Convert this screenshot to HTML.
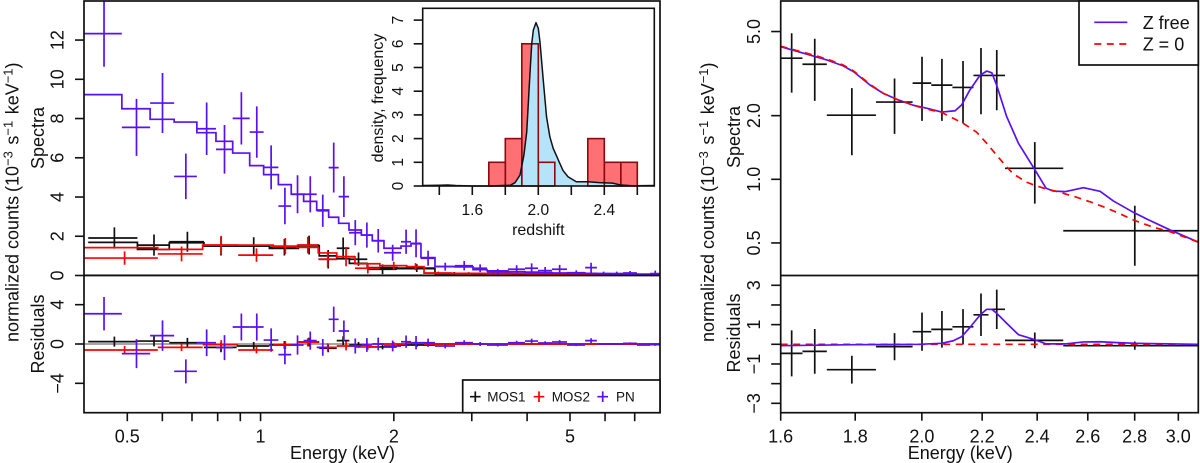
<!DOCTYPE html>
<html lang="en">
<head>
<meta charset="utf-8">
<title>X-ray spectra and residuals</title>
<style>
html,body{margin:0;padding:0;background:#fff;width:1200px;height:463px;overflow:hidden}
svg{display:block}
text{font-family:"Liberation Sans",sans-serif;fill:#111}
</style>
</head>
<body>
<svg id="chart" xmlns="http://www.w3.org/2000/svg" width="1200" height="463" viewBox="0 0 1200 463">
  <defs>
    <clipPath id="clipLT"><rect x="84" y="1" width="576" height="274.5"/></clipPath>
    <clipPath id="clipLR"><rect x="84" y="275.5" width="576" height="137"/></clipPath>
    <clipPath id="clipRT"><rect x="780.7" y="1" width="417.6" height="274.5"/></clipPath>
    <clipPath id="clipRR"><rect x="780.7" y="275.5" width="417.6" height="137"/></clipPath>
  </defs>
  <g id="leftTop" clip-path="url(#clipLT)"></g>
  <g id="leftRes" clip-path="url(#clipLR)"></g>
  <g id="rightTop" clip-path="url(#clipRT)"></g>
  <g id="rightRes" clip-path="url(#clipRR)"></g>
  <g id="axes"></g>

  <rect x="84" y="1" width="576" height="411.7" fill="none" stroke="#111" stroke-width="1.7"/>
  <line x1="84" y1="275.5" x2="660" y2="275.5" stroke="#111" stroke-width="1.7"/>
  <rect x="780.7" y="1" width="417.6" height="411.7" fill="none" stroke="#111" stroke-width="1.7"/>
  <line x1="780.7" y1="275.5" x2="1198.3" y2="275.5" stroke="#111" stroke-width="1.7"/>

  <text transform="translate(18.5 342) rotate(-90)" font-size="18">normalized counts</text>
  <text transform="translate(18.5 192) rotate(-90)" font-size="18">(10<tspan font-size="13" dy="-6">−3</tspan><tspan dy="6" dx="1.5"> s</tspan><tspan font-size="13" dy="-6">−1</tspan><tspan dy="6" dx="1.5"> keV</tspan><tspan font-size="13" dy="-6">−1</tspan><tspan dy="6">)</tspan></text>
  <text transform="translate(44 138) rotate(-90)" font-size="18" text-anchor="middle">Spectra</text>
  <text transform="translate(44 334) rotate(-90)" font-size="18" text-anchor="middle">Residuals</text>
  <text x="342.5" y="459" font-size="18" text-anchor="middle">Energy (keV)</text>

  <text transform="translate(714 342) rotate(-90)" font-size="18">normalized counts</text>
  <text transform="translate(714 192) rotate(-90)" font-size="18">(10<tspan font-size="13" dy="-6">−3</tspan><tspan dy="6" dx="1.5"> s</tspan><tspan font-size="13" dy="-6">−1</tspan><tspan dy="6" dx="1.5"> keV</tspan><tspan font-size="13" dy="-6">−1</tspan><tspan dy="6">)</tspan></text>
  <text transform="translate(740 137) rotate(-90)" font-size="18" text-anchor="middle">Spectra</text>
  <text transform="translate(740 333) rotate(-90)" font-size="18" text-anchor="middle">Residuals</text>
  <text x="960.3" y="459" font-size="18" text-anchor="middle">Energy (keV)</text>

  <rect x="422.7" y="8.3" width="231.6" height="177.7" fill="#fff"/>
  <g id="inset"></g>
  <rect x="422.7" y="8.3" width="231.6" height="177.7" fill="none" stroke="#111" stroke-width="1.6"/>
  <g id="insetAxes"></g>
  <text transform="translate(383 98) rotate(-90)" font-size="16" text-anchor="middle">density, frequency</text>
  <text x="538.3" y="235" font-size="16" text-anchor="middle">redshift</text>

  <g>
    <rect x="462.7" y="380" width="197.3" height="32.7" fill="#fff" stroke="#111" stroke-width="1.7"/>
    <path d="M470 396.7h10.6M475.3 391.4v10.6" stroke="#111" stroke-width="1.7" fill="none"/>
    <text x="487.3" y="401.5" font-size="13.5">MOS1</text>
    <path d="M533.7 396.7h10.6M539 391.4v10.6" stroke="#ff0000" stroke-width="1.7" fill="none"/>
    <text x="551.7" y="401.5" font-size="13.5">MOS2</text>
    <path d="M597.4 396.7h10.6M602.7 391.4v10.6" stroke="#5a10f5" stroke-width="1.7" fill="none"/>
    <text x="616" y="401.5" font-size="13.5">PN</text>
  </g>
  <g>
    <rect x="1079" y="1" width="119.3" height="64" fill="#fff" stroke="#111" stroke-width="1.7"/>
    <line x1="1094.3" y1="22.3" x2="1127.3" y2="22.3" stroke="#5a10f5" stroke-width="1.7"/>
    <text x="1142.7" y="29" font-size="18">Z free</text>
    <line x1="1094.3" y1="44" x2="1127.3" y2="44" stroke="#ff0000" stroke-width="1.7" stroke-dasharray="7 5.5"/>
    <text x="1142.7" y="50.5" font-size="18">Z = 0</text>
  </g>
</svg>
<script>
// ---- Left panel: XMM spectra (energy in keV, counts in 1e-3/s/keV) ----
const pnEdges = [0.4,0.486,0.563,0.638,0.718,0.793,0.865,0.945,1.016,1.097,1.173,1.251,1.339,1.425,1.501,1.584,1.689,1.788,1.9,2.076,2.187,2.303,2.477,2.749,3.019,3.247,3.62,3.957,4.234,4.553,4.922,5.41,5.75,6.16,6.59,7.08,7.58,8];
const pnCounts = [12.33,7.55,8.79,5.05,7.48,6.43,8.01,7.31,5.51,3.54,4.14,4.14,3.30,5.50,4.02,2.18,2.06,1.77,1.16,1.72,1.64,0.88,0.45,0.50,0.37,0.19,0.32,0.37,0.25,0.32,0.14,0.40,0.10,0.10,0.13,0.05,0.10];
const pnCountErr = [1.69,1.45,1.53,1.16,1.34,1.24,1.33,1.31,1.12,0.93,0.97,0.92,0.82,1.27,1.04,0.64,0.64,0.60,0.41,0.62,0.71,0.38,0.20,0.24,0.20,0.15,0.20,0.25,0.18,0.22,0.12,0.25,0.10,0.10,0.10,0.05,0.15];
const pnModel = [9.22,8.50,7.96,7.82,7.28,6.84,6.24,5.60,5.14,4.63,4.14,3.78,3.34,2.97,2.66,2.32,2.06,1.77,1.39,1.50,1.62,0.91,0.46,0.44,0.30,0.24,0.19,0.17,0.15,0.13,0.12,0.11,0.10,0.09,0.08,0.07,0.06];
const pnResid = [3.08,-0.98,0.85,-2.78,0.13,-0.37,1.73,1.73,0.40,-1.08,-0.10,0.34,-0.34,2.51,1.32,-0.20,-0.10,0,-0.20,0.23,0.13,0.13,-0.20,0.13,0,-0.10,0.13,0.30,0.10,0.20,-0.10,0.34,0,0,0.06,-0.10,-0.07];
const pnResidErr = [1.70,1.47,1.55,1.22,1.36,1.27,1.37,1.37,1.19,0.98,0.98,0.93,0.85,1.29,1.07,0.76,0.70,0.65,0.55,0.63,0.68,0.42,0.25,0.25,0.20,0.15,0.20,0.25,0.18,0.20,0.12,0.25,0.10,0.10,0.10,0.06,0.12];

const mos1Edges = [0.408,0.527,0.622,0.745,0.883,1.047,1.217,1.357,1.486,1.587,1.742,2.03,2.477,3.0,3.7,4.6,5.8,8];
const mos1Counts = [1.91,1.55,1.72,1.50,1.50,1.44,1.55,0.83,1.39,0.83,0.32,0.38,0.10,0.10,0.08,0.05,0.03];
const mos1CountErr = [0.54,0.54,0.51,0.48,0.45,0.42,0.48,0.47,0.55,0.34,0.25,0.20,0.08,0.06,0.05,0.04,0.03];
const mos1Model = [1.69,1.33,1.67,1.50,1.50,1.38,1.52,1.00,0.85,0.62,0.40,0.35,0.10,0.09,0.07,0.05,0.03];
const mos1Resid = [0.24,0.30,0.13,-0.34,-0.20,-0.10,0.20,-0.44,0.34,-0.10,-0.30,-0.10,0,0,0,0,0];
const mos1ResidErr = [0.51,0.54,0.49,0.50,0.40,0.40,0.45,0.40,0.45,0.30,0.25,0.20,0.08,0.06,0.05,0.04,0.03];

const mos2Edges = [0.4,0.586,0.74,0.89,1.068,1.207,1.35,1.486,1.634,1.86,2.138,2.34,2.7,3.2,4,5,6.5,8];
const mos2Counts = [0.89,1.10,1.55,1.04,1.50,1.55,0.83,0.96,0.37,0.50,0.45,0.12,0.11,0.10,0.08,0.06,0.04];
const mos2CountErr = [0.34,0.38,0.47,0.34,0.41,0.42,0.40,0.49,0.27,0.20,0.18,0.08,0.06,0.05,0.04,0.04,0.03];
const mos2Model = [1.42,1.33,1.55,1.55,1.47,1.43,1.15,0.95,0.60,0.50,0.45,0.12,0.11,0.10,0.08,0.06,0.04];
const mos2Resid = [-0.61,-0.34,-0.07,-0.61,-0.10,0.17,-0.34,-0.20,-0.30,0,0.10,0,0,0,0,0,0];
const mos2ResidErr = [0.40,0.38,0.47,0.34,0.41,0.42,0.40,0.45,0.27,0.20,0.15,0.08,0.06,0.05,0.04,0.04,0.03];

// ---- Inset: redshift histogram and density ----
const histLow = [1.7,1.8,1.9,2.0,2.3,2.4,2.5];
const histCount = [1,2,6,1,2,1,1];
const histWidth = 0.1;
const densityZ = [1.3,1.4,1.45,1.5,1.6,1.7,1.78,1.83,1.859,1.889,1.913,1.93,1.945,1.96,1.97,1.986,2.0,2.01,2.03,2.05,2.07,2.09,2.11,2.13,2.15,2.18,2.23,2.30,2.37,2.45,2.5,2.57,2.7];
const densityVal = [0.02,0.03,0.04,0.02,0,0,0.02,0.03,0.14,0.46,1.31,2.29,4.19,6.0,6.58,6.89,6.65,6.09,4.47,2.92,2.08,1.59,1.28,0.96,0.65,0.39,0.18,0.18,0.14,0.12,0.04,0.01,0.02];

// ---- Right panel: stacked PN/MOS spectrum ----
const stackEdges = [1.6,1.656,1.721,1.860,1.971,2.030,2.099,2.170,2.222,2.281,2.501,3.1];
const stackCounts = [3.74,3.50,2.01,2.32,2.85,2.79,2.72,3.10,3.10,1.127,0.571];
const stackHigh = [4.91,4.62,2.70,3.00,3.80,3.71,3.63,4.18,4.09,1.50,0.75];
const stackLow = [2.57,2.35,1.30,1.64,1.89,1.89,1.84,2.03,2.12,0.767,0.39];
const stackResid = [-0.46,-0.36,-1.29,-0.12,0.64,0.76,0.89,1.50,1.78,0.20,-0.07];
const stackResidErr = [1.17,1.14,0.71,0.69,0.97,0.93,0.90,1.08,1.00,0.40,0.21];
const freeE = [1.6,1.685,1.721,1.766,1.795,1.843,1.882,1.922,1.973,2.015,2.064,2.108,2.130,2.158,2.193,2.216,2.234,2.251,2.287,2.330,2.388,2.434,2.462,2.508,2.582,2.651,2.707,2.794,2.854,2.961,3.1];
const freeModel = [4.24,3.83,3.67,3.44,3.23,2.79,2.55,2.39,2.24,2.17,2.08,2.11,2.25,2.65,3.11,3.25,3.19,2.79,1.98,1.48,1.127,0.907,0.88,0.874,0.913,0.877,0.79,0.698,0.649,0.576,0.503];
const zeroE = [1.6,1.685,1.721,1.766,1.795,1.843,1.882,1.922,1.973,2.015,2.064,2.135,2.181,2.216,2.251,2.281,2.311,2.361,2.398,2.435,2.488,2.555,2.609,2.664,2.722,2.794,2.884,2.961,3.1];
const zeroModel = [4.26,3.87,3.71,3.47,3.26,2.81,2.55,2.39,2.24,2.15,2.07,1.84,1.67,1.48,1.30,1.17,1.06,0.968,0.93,0.90,0.868,0.822,0.783,0.742,0.698,0.642,0.593,0.565,0.503];
const freeResE = [1.6,1.795,1.99,2.064,2.102,2.130,2.158,2.193,2.216,2.234,2.251,2.287,2.330,2.388,2.434,2.508,2.582,2.651,2.736,2.809,3.1];
const freeResid = [-0.07,-0.02,0,0.05,0.18,0.39,0.86,1.49,1.78,1.78,1.58,1.07,0.49,0.25,0.02,0.02,0.12,0.13,0.08,0.05,0];

// ---- Tick labels ----
const leftXMinor = [0.5,0.6,0.7,0.8,0.9,1,2,3,4,5,6,7];
const leftXLabels = [0.5,1,2,5];
const leftSpecTicks = [0,2,4,6,8,10,12];
const leftResTicks = [-4,0,4];
const rightXTicks = ["1.6","1.8","2.0","2.2","2.4","2.6","2.8","3.0"];
const rightSpecTicks = ["0.5","1.0","2.0","5.0"];
const rightResTicks = [-3,-2,-1,0,1,2,3];
const rightResLabels = [-3,-1,1,3];
const insetXTicks = [1.4,1.6,1.8,2.0,2.2,2.4,2.6];
const insetXLabels = ["1.6","2.0","2.4"];
const insetYTicks = [0,1,2,3,4,5,6,7];

const PURPLE = "#5a10f5", RED = "#ff0000", INK = "#111";
const NS = "http://www.w3.org/2000/svg";

// Axis functions
const xL = e => 127.3 + 442.7 * Math.log10(e / 0.5);
const yLT = v => 275.5 - 19.62 * v;
const yLR = v => 344 - 9.83 * v;
const xR = e => 780.7 + 1456.5 * Math.log10(e / 1.6);
const yRT = v => 179.3 - 211.4 * Math.log10(v);
const yRR = v => 344.3 - 19.67 * v;
const xI = z => 538.3 + 165 * (z - 2);
const yI = d => 186 - 23.7 * d;

function mk(tag, parent, props) {
  const el = document.createElementNS(NS, tag);
  for (const k in props) el.setAttribute(k, props[k]);
  parent.appendChild(el);
  return el;
}
function stepPath(edges, vals, xf, yf) {
  let d = "M" + xf(edges[0]).toFixed(2) + " " + yf(vals[0]).toFixed(2);
  for (let i = 0; i < vals.length; i++) {
    d += "L" + xf(edges[i + 1]).toFixed(2) + " " + yf(vals[i]).toFixed(2);
    if (i + 1 < vals.length) d += "L" + xf(edges[i + 1]).toFixed(2) + " " + yf(vals[i + 1]).toFixed(2);
  }
  return d;
}
function polyPath(xs, ys, xf, yf) {
  return xs.map((x, i) => (i ? "L" : "M") + xf(x).toFixed(2) + " " + yf(ys[i]).toFixed(2)).join("");
}
function crossPath(lo, hi, val, top, bottom, xf, yf) {
  const c = (lo + hi) / 2;
  return "M" + xf(lo).toFixed(2) + " " + yf(val).toFixed(2) + "L" + xf(hi).toFixed(2) + " " + yf(val).toFixed(2) +
         "M" + xf(c).toFixed(2) + " " + yf(top).toFixed(2) + "L" + xf(c).toFixed(2) + " " + yf(bottom).toFixed(2);
}

const gLT = document.getElementById("leftTop");
const gLR = document.getElementById("leftRes");
const gRT = document.getElementById("rightTop");
const gRR = document.getElementById("rightRes");
const gAx = document.getElementById("axes");
const gIn = document.getElementById("inset");
const gIA = document.getElementById("insetAxes");

// Zero reference lines in the left panel
const zeroTop = mk("line", gLT, {x1: 84, x2: 660, y1: yLT(0), y2: yLT(0), stroke: "#999", "stroke-width": 2.4});


const zeroRes = mk("line", gLR, {x1: 84, x2: 660, y1: yLR(0), y2: yLR(0), stroke: "#999", "stroke-width": 1.7});



function drawSeries(edges, counts, errs, model, resid, residErr, color, label) {
  const m = mk("path", gLT, {d: stepPath(edges, model, xL, yLT), fill: "none", stroke: color, "stroke-width": 1.7});
  
  
  for (let i = 0; i < counts.length; i++) {
    const p = mk("path", gLT, {d: crossPath(edges[i], edges[i + 1], counts[i], counts[i] + errs[i], counts[i] - errs[i], xL, yLT), fill: "none", stroke: color, "stroke-width": 1.7});
    
    
    const r = mk("path", gLR, {d: crossPath(edges[i], edges[i + 1], resid[i], resid[i] + residErr[i], resid[i] - residErr[i], xL, yLR), fill: "none", stroke: color, "stroke-width": 1.7});
    
    
  }
}
drawSeries(mos1Edges, mos1Counts, mos1CountErr, mos1Model, mos1Resid, mos1ResidErr, INK, 'mos1');
drawSeries(mos2Edges, mos2Counts, mos2CountErr, mos2Model, mos2Resid, mos2ResidErr, RED, 'mos2');
drawSeries(pnEdges, pnCounts, pnCountErr, pnModel, pnResid, pnResidErr, PURPLE, 'pn');

// Right panel
for (let i = 0; i < stackCounts.length; i++) {
  const p = mk("path", gRT, {d: crossPath(stackEdges[i], stackEdges[i + 1], stackCounts[i], stackHigh[i], stackLow[i], xR, yRT), fill: "none", stroke: INK, "stroke-width": 1.7});
  
  
  const r = mk("path", gRR, {d: crossPath(stackEdges[i], stackEdges[i + 1], stackResid[i], stackResid[i] + stackResidErr[i], stackResid[i] - stackResidErr[i], xR, yRR), fill: "none", stroke: INK, "stroke-width": 1.7});
  
  
}
const freeLine = mk("path", gRT, {d: polyPath(freeE, freeModel, xR, yRT), fill: "none", stroke: PURPLE, "stroke-width": 1.7, "stroke-linejoin": "round"});


const zeroLine = mk("path", gRT, {d: polyPath(zeroE, zeroModel, xR, yRT), fill: "none", stroke: RED, "stroke-width": 1.7, "stroke-dasharray": "7 5.5"});


const zeroResLine = mk("line", gRR, {x1: xR(1.6), x2: xR(3.1), y1: yRR(0), y2: yRR(0), stroke: RED, "stroke-width": 1.7, "stroke-dasharray": "7 5.5"});


const freeResLine = mk("path", gRR, {d: polyPath(freeResE, freeResid, xR, yRR), fill: "none", stroke: PURPLE, "stroke-width": 1.7, "stroke-linejoin": "round"});



// Inset histogram + density
histLow.forEach((z, i) => {
  const b = mk("rect", gIn, {x: xI(z), y: yI(histCount[i]), width: xI(z + histWidth) - xI(z), height: yI(0) - yI(histCount[i]), fill: "#ff7074", stroke: "none"});
  
  
});
const densFill = mk("path", gIn, {d: polyPath(densityZ, densityVal, xI, yI) + "L" + xI(2.7) + " " + yI(0) + "L" + xI(1.3) + " " + yI(0) + "Z", fill: "#b5e3fa", stroke: "none"});


histLow.forEach((z, i) => {
  const b = mk("rect", gIn, {x: xI(z), y: yI(histCount[i]), width: xI(z + histWidth) - xI(z), height: yI(0) - yI(histCount[i]), fill: "none", stroke: "#8b0a10", "stroke-width": 1.6});
  
  
});
const densLine = mk("path", gIn, {d: polyPath(densityZ, densityVal, xI, yI), fill: "none", stroke: "#111", "stroke-width": 1.5, "stroke-linejoin": "round"});



// Tick helpers
function xTick(group, x, y0, len, name) {
  const t = mk("line", group, {x1: x, x2: x, y1: y0, y2: y0 + len, stroke: INK, "stroke-width": 1.6});
  
  
}
function yTick(group, x0, y, len, name) {
  const t = mk("line", group, {x1: x0 - len, x2: x0, y1: y, y2: y, stroke: INK, "stroke-width": 1.6});
  
  
}
function hLabel(group, txt, x, y, size, name) {
  const t = mk("text", group, {x: x, y: y, "font-size": size, "text-anchor": "middle"});
  t.textContent = txt;
  
  
}
function vLabel(group, txt, x, y, size, name) {
  const t = mk("text", group, {transform: "translate(" + x + " " + y + ") rotate(-90)", "font-size": size, "text-anchor": "middle"});
  t.textContent = String(txt).replace("-", "\u2212");
  
  
}

// Left axes
leftXMinor.forEach(e => xTick(gAx, xL(e), 412.7, 8.5, 'left-x-tick'));
leftXLabels.forEach(e => hLabel(gAx, e, xL(e), 442.5, 18, 'left-x-tick-label'));
leftSpecTicks.forEach(v => {
  yTick(gAx, 84, yLT(v), 9, 'left-spectra-tick');
  vLabel(gAx, v, 63.5, yLT(v), 18, 'left-spectra-tick-label');
});
leftResTicks.forEach(v => {
  yTick(gAx, 84, yLR(v), 9, 'left-residual-tick');
  vLabel(gAx, v, 63.5, yLR(v), 18, 'left-residual-tick-label');
});

// Right axes
rightXTicks.forEach(s => {
  xTick(gAx, xR(+s), 412.7, 8, 'right-x-tick');
  hLabel(gAx, s, xR(+s), 442.5, 18, 'right-x-tick-label');
});
rightSpecTicks.forEach(s => {
  yTick(gAx, 780.7, yRT(+s), 9.5, 'right-spectra-tick');
  vLabel(gAx, s, 760, yRT(+s), 18, 'right-spectra-tick-label');
});
rightResTicks.forEach(v => yTick(gAx, 780.7, yRR(v), 9.5, 'right-residual-tick'));
rightResLabels.forEach(v => vLabel(gAx, v, 760, yRR(v), 18, 'right-residual-tick-label'));

// Inset axes
insetXTicks.forEach(z => xTick(gIA, xI(z), 186, 9, 'inset-x-tick'));
insetXLabels.forEach(s => hLabel(gIA, s, xI(+s), 215, 15.5, 'inset-x-tick-label'));
insetYTicks.forEach(v => {
  yTick(gIA, 422.7, yI(v), 9, 'inset-y-tick');
  vLabel(gIA, v, 403, yI(v), 15.5, 'inset-y-tick-label');
});
</script>
</body>
</html>
